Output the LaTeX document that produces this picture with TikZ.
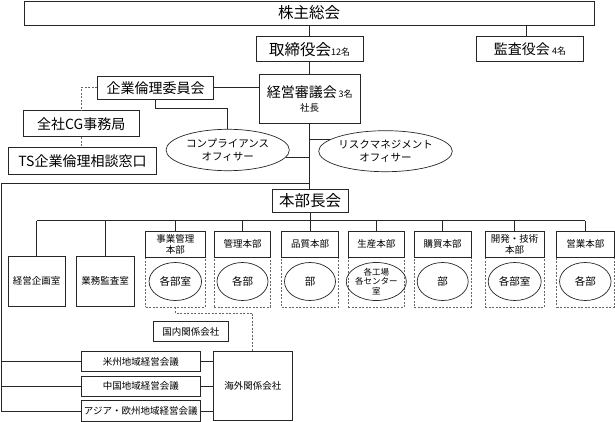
\documentclass[tikz,border=0pt]{standalone}
\usepackage{fontspec}
\setmainfont{Noto Sans CJK JP}
\usetikzlibrary{shapes.geometric}
\newcommand\szL{\fontsize{15.5}{18}\selectfont}
\newcommand\szM{\fontsize{14}{17}\selectfont}
\newcommand\szS{\fontsize{9.5}{11}\selectfont}
\newcommand\szT{\fontsize{9}{10}\selectfont}
\newcommand\szE{\fontsize{10.5}{12.5}\selectfont}
\newcommand\szX{\fontsize{8.5}{9.5}\selectfont}
\begin{document}
\begin{tikzpicture}[x=1pt,y=-1pt,
  ln/.style={line width=0.7pt, draw=black!85},
  dl/.style={line width=0.7pt, draw=black!60, dash pattern=on 2pt off 1.5pt},
  box/.style={ln, rectangle, inner sep=0pt, align=center, anchor=center},
  ell/.style={ln, ellipse, inner sep=0pt, align=center},
  dbox/.style={dl, rectangle, inner sep=0pt},
]
\useasboundingbox (0,0) rectangle (615,422);

% top
\node[box, minimum width=570pt, minimum height=24pt, font=\szL] (sh) at (309,13) {株主総会};
\node[box, minimum width=107pt, minimum height=25pt] (bd) at (309.6,49.2) {{\szL 取締役会}{\szT 12名}};
\node[box, minimum width=106.6pt, minimum height=25pt] (au) at (530,49.2) {{\szM 監査役会} {\szT 4名}};
\node[box, minimum width=100.7pt, minimum height=49.3pt] (mg) at (309.7,98.7) {{\szM 経営審議会}\,{\szT 3名}\\[2pt]{\szS 社長}};
\node[box, minimum width=115.6pt, minimum height=23.3pt, font=\szM] (et) at (155.5,87.7) {企業倫理委員会};
\node[box, minimum width=116pt, minimum height=26pt, font=\szM] (cg) at (81.3,123.7) {全社CG事務局};
\node[box, minimum width=148.4pt, minimum height=26.7pt, font=\szM] (ts) at (82.5,160.7) {TS企業倫理相談窓口};
\node[ell, minimum width=123.3pt, minimum height=41.4pt, font=\szE] (cp) at (227.7,150) {コンプライアンス\\オフィサー};
\node[ell, minimum width=119pt, minimum height=41pt, font=\szE] (rk) at (385.5,151.2) {リスクマネジメント\\オフィサー};
\node[box, minimum width=76.3pt, minimum height=23.4pt, font=\szL] (hb) at (310.2,201) {本部長会};

% staff offices
\node[box, minimum width=56.7pt, minimum height=49.3pt, font=\szS] (kk) at (36.7,281.3) {経営企画室};
\node[box, minimum width=58.3pt, minimum height=49.3pt, font=\szS] (gk) at (105.2,281.3) {業務監査室};

% divisions
\node[dbox, minimum width=59.3pt, minimum height=49.7pt] (d1) at (175.3,282.2) {};
\node[box, minimum width=59.3pt, minimum height=26.3pt, font=\szS] (h1) at (175.3,244.2) {事業管理\\本部};
\node[ell, minimum width=52.5pt, minimum height=38pt, font=\szE] (e1) at (175.3,281.5) {各部室};

\node[dbox, minimum width=56.4pt, minimum height=49.7pt] (d2) at (242.5,282.2) {};
\node[box, minimum width=56.4pt, minimum height=26.3pt, font=\szS] (h2) at (242.5,244.2) {管理本部};
\node[ell, minimum width=51pt, minimum height=38pt, font=\szE] (e2) at (242.5,281.5) {各部};

\node[dbox, minimum width=56.6pt, minimum height=49.7pt] (d3) at (310,282.2) {};
\node[box, minimum width=56.6pt, minimum height=26.3pt, font=\szS] (h3) at (310,244.2) {品質本部};
\node[ell, minimum width=51pt, minimum height=38pt, font=\szE] (e3) at (310,281.5) {部};

\node[dbox, minimum width=56pt, minimum height=49.7pt] (d4) at (376.3,282.2) {};
\node[box, minimum width=56pt, minimum height=26.3pt, font=\szS] (h4) at (376.3,244.2) {生産本部};
\node[ell, minimum width=50.5pt, minimum height=38pt, font=\szX] (e4) at (376.3,281.5) {各工場\\各センター\\室};

\node[dbox, minimum width=56.7pt, minimum height=49.7pt] (d5) at (442.7,282.2) {};
\node[box, minimum width=56.7pt, minimum height=26.3pt, font=\szS] (h5) at (442.7,244.2) {購買本部};
\node[ell, minimum width=51pt, minimum height=38pt, font=\szE] (e5) at (442.7,281.5) {部};

\node[dbox, minimum width=59.3pt, minimum height=49.7pt] (d6) at (514.7,282.2) {};
\node[box, minimum width=59.3pt, minimum height=26.3pt, font=\szS] (h6) at (514.7,244.2) {開発・技術\\本部};
\node[ell, minimum width=53pt, minimum height=38pt, font=\szE] (e6) at (514.7,281.5) {各部室};

\node[dbox, minimum width=57.3pt, minimum height=49.7pt] (d7) at (585.3,282.2) {};
\node[box, minimum width=57.3pt, minimum height=26.3pt, font=\szS] (h7) at (585.3,244.2) {営業本部};
\node[ell, minimum width=51.5pt, minimum height=38pt, font=\szE] (e7) at (585.3,281.5) {各部};

% affiliates
\node[box, minimum width=75pt, minimum height=20pt, font=\szS] (kn) at (190.8,331.7) {国内関係会社};
\node[box, minimum width=79pt, minimum height=69.7pt, font=\szS] (kg) at (252.8,385.9) {海外関係会社};
\node[box, minimum width=118.3pt, minimum height=20pt, font=\szS] (bs) at (140.8,361.7) {米州地域経営会議};
\node[box, minimum width=118.3pt, minimum height=20.7pt, font=\szS] (cn) at (140.8,386.3) {中国地域経営会議};
\node[box, minimum width=118.3pt, minimum height=21pt, font=\szS] (as) at (140.8,411.2) {アジア・欧州地域経営会議};

% connectors
\draw[ln] (bd.north |- sh.south) -- (bd.north);
\draw[ln] ([xshift=-4pt]au.north |- sh.south) -- ([xshift=-4pt]au.north);
\draw[ln] (bd.south) -- (bd.south |- mg.north);
\draw[ln] (et.east) -- (et.east -| mg.west);
\draw[ln] (et.south) -- ++(0,8.4) -| (cp.north);
\draw[dl] (et.west) -| (cg.north);
\draw[dl] (cg.south) -- (cg.south |- ts.north);
\draw[ln] (mg.south) -- (mg.south |- hb.north);
\draw[ln] (rk.168) -- (rk.168 -| mg.south);
\draw[ln] (cp.353) -- (cp.353 -| mg.south);

\coordinate (lt) at (1,183);
\draw[ln] (lt -| mg.south) -- (lt) -- (lt |- as.west) -- (as.west);
\draw[ln] (lt |- bs.west) -- (bs.west);
\draw[ln] (lt |- cn.west) -- (cn.west);

\coordinate (bus) at (0,220.7);
\draw[ln] (hb.south) -- (hb.south |- bus);
\draw[ln] (kk.north |- bus) -- (h7.north |- bus);
\foreach \n in {kk,gk,h1,h2,h3,h4,h5,h6,h7}
  \draw[ln] (\n.north |- bus) -- (\n.north);

\draw[dl] (d1.south) -- ++(0,5.7) -| (kg.north);
\draw[ln] (bs.east) -- (bs.east -| kg.west);
\draw[ln] (cn.east) -- (cn.east -| kg.west);
\draw[ln] (as.east) -- (as.east -| kg.west);
\end{tikzpicture}
\end{document}
